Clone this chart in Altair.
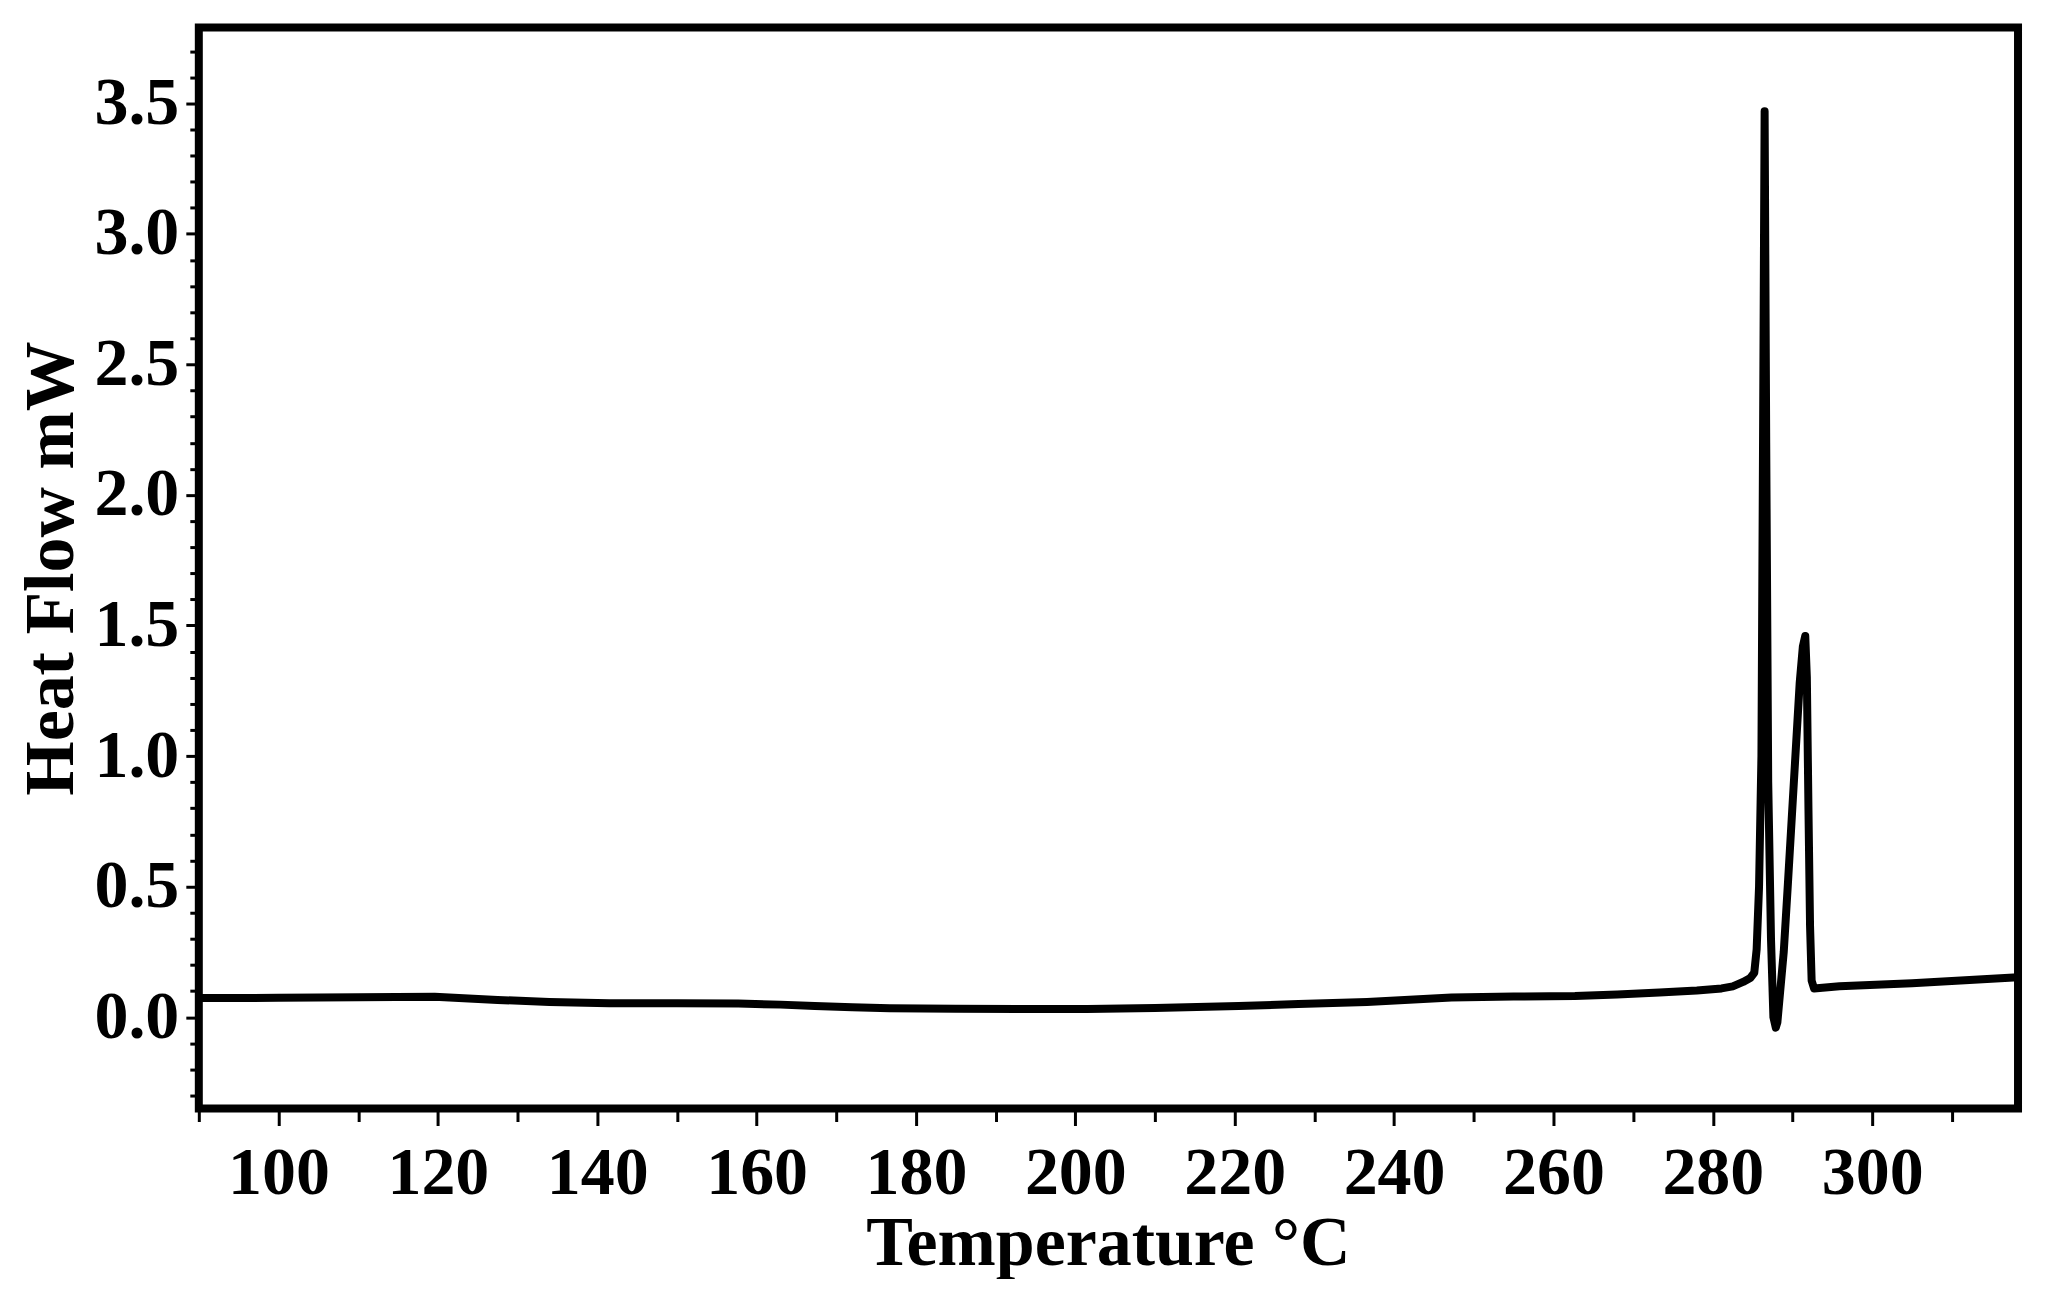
import altair as alt
import pandas as pd

# Temperature (°C) and heat flow (mW)
temperature = [90, 100, 110, 119.6, 127.5, 134, 141.5, 150, 157.7, 163, 167.3, 172,
               176.7, 185, 193, 201.5, 210, 220.5, 228, 236.6, 247.2, 255, 262.7,
               268, 273.3, 278, 281.1, 282.5, 283.8, 284.7, 285.2, 285.5, 285.8,
               286.1, 286.3, 286.5, 286.7, 286.95, 287.3, 287.6, 287.9, 288.1,
               288.9, 289.4, 289.9, 290.4, 290.9, 291.3, 291.6, 291.8, 292.0,
               292.2, 292.4, 292.7, 295.9, 305, 318.3]
heat_flow = [0.073, 0.074, 0.076, 0.078, 0.066, 0.058, 0.053, 0.053, 0.052, 0.048,
             0.043, 0.038, 0.034, 0.032, 0.031, 0.031, 0.035, 0.043, 0.050, 0.058,
             0.075, 0.079, 0.081, 0.087, 0.094, 0.102, 0.110, 0.118, 0.135, 0.150,
             0.170, 0.260, 0.500, 1.000, 2.200, 3.470, 2.200, 0.900, 0.300, 0.000,
             -0.040, -0.020, 0.250, 0.500, 0.760, 1.020, 1.280, 1.420, 1.460,
             1.300, 0.800, 0.350, 0.140, 0.110, 0.118, 0.130, 0.153]

x_tick_values = [90, 100, 110, 120, 130, 140, 150, 160, 170, 180, 190, 200, 210,
                 220, 230, 240, 250, 260, 270, 280, 290, 300, 310]
y_tick_values = [-0.3, -0.2, -0.1, 0.0, 0.1, 0.2, 0.3, 0.4, 0.5, 0.6, 0.7, 0.8,
                 0.9, 1.0, 1.1, 1.2, 1.3, 1.4, 1.5, 1.6, 1.7, 1.8, 1.9, 2.0, 2.1,
                 2.2, 2.3, 2.4, 2.5, 2.6, 2.7, 2.8, 2.9, 3.0, 3.1, 3.2, 3.3, 3.4,
                 3.5, 3.6, 3.7]

df = pd.DataFrame({"T": temperature, "HF": heat_flow, "i": list(range(len(temperature)))})

FONT = "Liberation Serif"
Y_MAJOR = "round(datum.value * 10) % 5 === 0"

x_axis = alt.Axis(
    values=x_tick_values,
    labelExpr="datum.value % 20 === 0 ? datum.label : ''",
    format="d",
    domain=False,
    grid=False,
    tickColor="black",
    tickWidth=3,
    tickSize={"condition": {"test": "datum.value % 20 === 0", "value": 17}, "value": 13},
    labelFont=FONT,
    labelFontWeight="bold",
    labelFontSize=68,
    labelColor="black",
    labelPadding=14,
    labelFlush=False,
    labelOverlap=False,
    title="Temperature °C",
    titleFont=FONT,
    titleFontWeight="bold",
    titleFontSize=70,
    titleColor="black",
    titleBaseline="alphabetic",
    titleX=910,
    titleY=156,
)

y_axis = alt.Axis(
    values=y_tick_values,
    labelExpr=Y_MAJOR + " ? format(datum.value, '.1f') : ''",
    domain=False,
    grid=False,
    tickColor="black",
    tickWidth=3,
    tickSize={"condition": {"test": Y_MAJOR, "value": 13}, "value": 9},
    labelFont=FONT,
    labelFontWeight="bold",
    labelFontSize=68,
    labelColor="black",
    labelPadding=7,
    labelFlush=False,
    labelOverlap=False,
    title="Heat Flow mW",
    titleFont=FONT,
    titleFontWeight="bold",
    titleFontSize=70,
    titleColor="black",
    titleBaseline="alphabetic",
    titleX=-126,
    titleY=541,
)

chart = (
    alt.Chart(df)
    .mark_line(color="black", strokeWidth=8, strokeJoin="round", strokeCap="round", clip=True)
    .encode(
        x=alt.X("T:Q", scale=alt.Scale(domain=[90, 318.3], nice=False, zero=False), axis=x_axis),
        y=alt.Y("HF:Q", scale=alt.Scale(domain=[-0.35, 3.79], nice=False, zero=False), axis=y_axis),
        order="i:Q",
    )
    .properties(
        width=1821,
        height=1082,
        autosize=alt.AutoSizeParams(type="none"),
        padding={"left": 191, "top": 19, "right": 20, "bottom": 170},
        background="white",
    )
    .configure_view(stroke="black", strokeWidth=8)
)

chart.save("out.html", embed_options={"renderer": "svg", "actions": False})
